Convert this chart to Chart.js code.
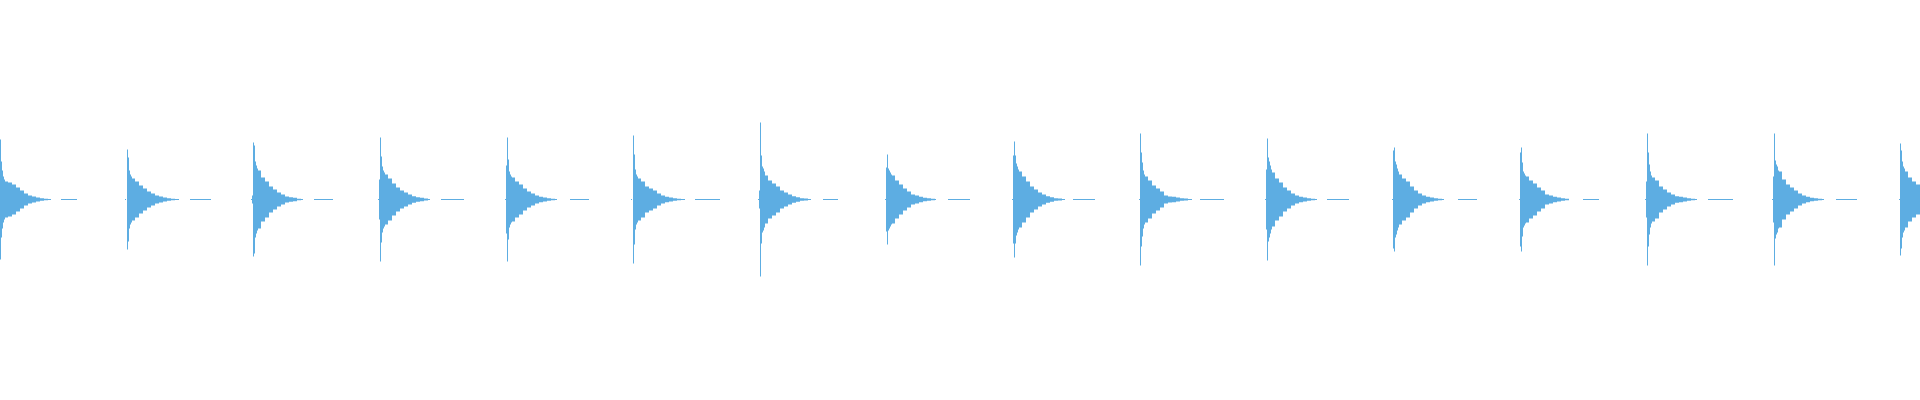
<!DOCTYPE html>
<html>
<head>
<meta charset="utf-8">
<title>Waveform</title>
<script src="https://cdn.jsdelivr.net/npm/chart.js@4.4.1/dist/chart.umd.min.js"></script>
<style>
  html, body { margin: 0; padding: 0; background: #fff; }
  #wrap { width: 1920px; height: 400px; }
</style>
</head>
<body>
<div id="wrap"><canvas id="wave"></canvas></div>
<script>
// time runs in frames (one frame per column), level is the peak amplitude of each frame
const onsets = [0, 127, 253, 380, 507, 633, 760, 887, 1014, 1140, 1267, 1394, 1521, 1647, 1774, 1900];

// frames after each onset where the envelope was read
const envOffsets = [-2, -1, 0, 1, 2, 3, 4, 5, 8, 12, 16, 20, 24, 28, 32, 36, 40, 44, 48];

// envelope level of every hit, one row per onset
const hitLevels = [
  [0, 0, 60, 38, 29, 23, 20, 18, 17, 15, 12, 9, 6, 4, 3, 2, 1.3, 0.8, 0.5],
  [0.5, 0, 50, 42, 29, 25, 23, 21, 18, 14, 11, 8, 6, 4, 3, 2, 1.3, 0.7, 0.5],
  [0.5, 4, 57, 54, 38, 34, 31, 29, 22, 18, 13, 10, 7, 5, 3, 2.3, 1.7, 0.7, 0.5],
  [0.5, 20, 62, 43, 33, 29, 27, 25, 21, 16, 12, 9, 7, 5, 3.3, 2.3, 1.7, 1, 0.5],
  [0.5, 34, 62, 40, 28, 25, 23, 22, 18, 15, 11, 8, 6, 4, 2.7, 2, 1.3, 0.7, 0.5],
  [0.5, 0, 64, 45, 30, 25, 23, 21, 18, 13, 11, 9, 6, 4, 2.7, 2, 1.3, 0.7, 0.5],
  [0.5, 9, 77, 44, 33, 31, 28, 24, 19, 16, 13, 9, 7, 5, 3.3, 2.3, 1.3, 1, 0.5],
  [0.5, 32, 45, 31, 29, 27, 25, 24, 19, 15, 11, 8, 5, 4, 2.7, 1.7, 1.3, 0.7, 0.5],
  [0.5, 44, 58, 44, 36, 33, 30, 28, 23, 18, 13, 10, 7, 5, 3.3, 2.3, 1.3, 1, 0.5],
  [0, 0.5, 66, 47, 37, 29, 25, 23, 19, 14, 11, 8, 4, 3, 2.7, 2, 1.3, 1, 0.5],
  [0.5, 30, 61, 42, 38, 34, 30, 27, 21, 17, 12, 9, 6, 4, 2.7, 2, 1.3, 0.7, 0.5],
  [0.5, 49, 52, 38, 35, 31, 28, 25, 21, 18, 13, 9, 6, 4, 2.7, 2, 1.3, 0.7, 0.5],
  [0.5, 47, 52, 37, 28, 26, 24, 23, 19, 16, 12, 9, 5, 4, 2.7, 2, 1.3, 0.7, 0.5],
  [0.5, 18, 66, 47, 35, 28, 24, 22, 19, 13, 10, 7, 5, 3.3, 2.7, 2, 1.3, 0.7, 0.5],
  [0.5, 23, 66, 39, 35, 33, 29, 28, 20, 15, 12, 9, 6, 4, 2.7, 1.7, 1.3, 0.7, 0.5],
  [0, 0.5, 56, 49, 38, 33, 31, 28, 22, 18, 15, 12]
];

// where each decay dies out, and the quiet hum that follows it
const tailEnd = [51, 52, 50, 50, 50, 52, 51, 49, 51, 52, 50, 50, 48, 50, 50, null];
const humStart = [61, 63, 61, 61, 63, 62, 63, 61, 59, 60, 60, 64, 62, 61, 62, null];
const humEnd = [77, 84, 80, 84, 82, 87, 78, 83, 81, 84, 82, 83, 78, 86, 83, null];
const humLevel = 0.5;

const totalFrames = 1920;

// build upper/lower envelope points
const upper = [];
const lower = [];
const add = (x, v) => {
  upper.push({ x: x, y: v });
  lower.push({ x: x, y: -v });
};

add(0, 0);
onsets.forEach((t, i) => {
  const lv = hitLevels[i];
  lv.forEach((v, k) => {
    const x = t + envOffsets[k];
    if (x >= 0 && x <= totalFrames) add(x, v);
  });
  if (tailEnd[i] !== null) {
    add(t + tailEnd[i], 0);
    add(t + humStart[i], humLevel);
    add(t + humEnd[i], 0);
  }
});
add(totalFrames, upper[upper.length - 1].y);

const blue = "#5DADE2";

new Chart(document.getElementById("wave").getContext("2d"), {
  type: "line",
  data: {
    datasets: [
      {
        data: upper,
        stepped: true,
        borderWidth: 0,
        borderColor: blue,
        backgroundColor: blue,
        pointRadius: 0,
        fill: "+1"
      },
      {
        data: lower,
        stepped: true,
        borderWidth: 0,
        borderColor: blue,
        backgroundColor: blue,
        pointRadius: 0,
        fill: false
      }
    ]
  },
  options: {
    responsive: true,
    maintainAspectRatio: false,
    animation: false,
    layout: { padding: 0 },
    plugins: {
      legend: { display: false },
      tooltip: { enabled: false }
    },
    scales: {
      x: { type: "linear", min: 0, max: totalFrames, display: false },
      y: { min: -200.5, max: 199.5, display: false }
    }
  }
});
</script>
</body>
</html>
